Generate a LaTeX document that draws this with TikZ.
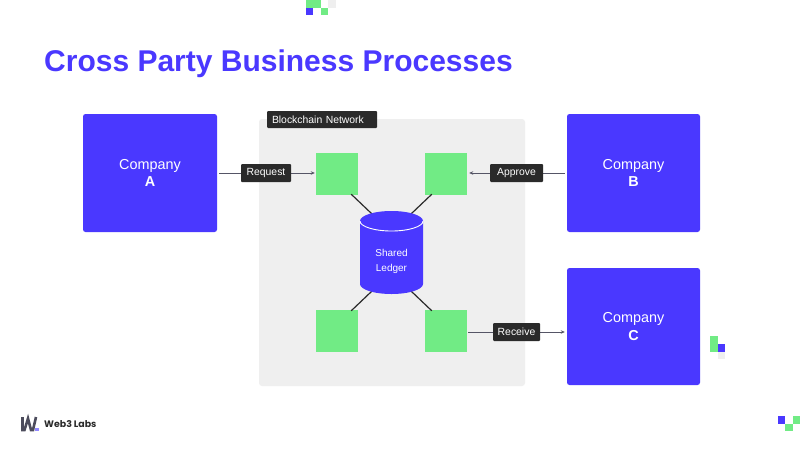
\documentclass[tikz,border=0pt]{standalone}
\usepackage{fontspec}
\setmainfont{Liberation Sans}
\newfontfamily\logofont{Poppins}
\usetikzlibrary{arrows.meta}
\definecolor{brandblue}{HTML}{4A38FF}
\definecolor{brandgreen}{HTML}{71EB85}
\definecolor{panelgray}{HTML}{EFEFEF}
\definecolor{labeldark}{HTML}{2A2A2A}
\definecolor{linkgray}{HTML}{555566}
\tikzset{
  company/.style={fill=brandblue,rounded corners=2.5pt,minimum width=134pt,minimum height=118pt,inner sep=0pt,text=white,align=center,font=\fontsize{14.4}{17}\selectfont},
  peer/.style={fill=brandgreen,minimum width=42pt,minimum height=42pt,inner sep=0pt},
  tag/.style={fill=labeldark,text=white,rounded corners=1pt,minimum height=18pt,inner sep=0pt,font=\fontsize{10.4}{12}\selectfont},
  link/.style={draw=linkgray,line width=1pt,-{Stealth[length=4pt,width=3.5pt]}},
  spoke/.style={draw=labeldark,line width=1.2pt}
}
\begin{document}
\begin{tikzpicture}[x=1pt,y=-1pt]
\useasboundingbox (0,0) rectangle (800,450);
\fill[white] (0,0) rectangle (800,450);
% decorative squares
\fill[brandgreen] (306,0) rectangle (321,7.5);
\fill[panelgray] (328,0) rectangle (336,7.5);
\fill[brandblue] (305.5,7.5) rectangle (313,15);
\fill[brandgreen] (321,7.5) rectangle (328,15);
\fill[brandgreen] (710,336) rectangle (717.5,352);
\fill[brandblue] (717.5,344) rectangle (725,352);
\fill[panelgray] (717.5,352) rectangle (725,359);
\fill[brandblue] (778,416) rectangle (785,424);
\fill[brandgreen] (785,424) rectangle (793,431);
\fill[brandgreen] (792.5,416) rectangle (800,424);
% title
\node[anchor=west,inner sep=0pt,text=brandblue,font=\fontsize{30}{36}\selectfont\bfseries] (title) at (44,64) {Cross Party Business Processes};
% panel
\fill[panelgray,rounded corners=3pt] (259,119) rectangle (525,386);
\node[tag,minimum width=110pt,minimum height=17pt,text width=100pt,align=left] (net) at (322,119.5) {Blockchain Network};
% companies
\node[company] (A) at (150,173) {Company\\[0.5pt]\textbf{A}};
\node[company,minimum width=133pt] (B) at (633.5,173) {Company\\[0.5pt]\textbf{B}};
\node[company,minimum width=133pt,minimum height=117pt] (C) at (633.5,326.5) {Company\\[0.5pt]\textbf{C}};
% peers
\node[peer] (p1) at (337,174) {};
\node[peer] (p2) at (446,174) {};
\node[peer] (p3) at (337,331) {};
\node[peer] (p4) at (446,331) {};
% ledger
\node[minimum width=63pt,minimum height=83pt,inner sep=0pt] (ledger) at (391.5,252.5) {};
\draw[spoke] ([xshift=-7pt,yshift=1pt]p1.south east) -- ([xshift=12pt,yshift=-3pt]ledger.north west);
\draw[spoke] ([xshift=7pt,yshift=1pt]p2.south west) -- ([xshift=-12pt,yshift=-3pt]ledger.north east);
\draw[spoke] ([xshift=-7pt,yshift=-1pt]p3.north east) -- ([xshift=12pt,yshift=3pt]ledger.south west);
\draw[spoke] ([xshift=7pt,yshift=-1pt]p4.north west) -- ([xshift=-12pt,yshift=3pt]ledger.south east);
\fill[brandblue] (360,221) arc[start angle=180,end angle=360,x radius=31.5,y radius=10]
  -- (423,284) arc[start angle=0,end angle=180,x radius=31.5,y radius=10] -- cycle;
\draw[white,line width=0.9pt] (360,221) arc[start angle=180,end angle=0,x radius=31.5,y radius=10];
\node[text=white,align=center,font=\fontsize{10}{14.5}\selectfont] (ledgertext) at (391.5,261.5) {Shared\\Ledger};
% connectors
\coordinate (a1) at ([xshift=2pt]A.east);
\coordinate (b1) at ([xshift=-2pt]B.west);
\coordinate (c1) at ([xshift=-2pt,yshift=-5.5pt]C.west);
\draw[link] (a1) -- ([xshift=-1pt,yshift=1pt]p1.west);
\draw[link] (b1) -- ([xshift=2pt,yshift=1pt]p2.east);
\draw[link] ([xshift=1pt,yshift=-1pt]p4.east) -- (c1);
\node[tag,minimum width=50pt] (req) at (266,173) {Request};
\node[tag,minimum width=53pt] (app) at (516.5,173) {Approve};
\node[tag,minimum width=47pt] (rec) at (516.5,332) {Receive};
% logo
\draw[linkgray!90!black,line width=2.6pt,line join=miter] (22.5,417) -- (22.5,430) -- (24.5,430) -- (28,418.5) -- (31,430) -- (33,430) -- (36,417);
\fill[brandblue!60] (35,427.5) rectangle (38.5,430.8);
\node[anchor=west,inner sep=0pt,text=labeldark,font=\fontsize{9.4}{10}\logofont\bfseries] (logo) at (44,424.5) {Web3 Labs};
\end{tikzpicture}
\end{document}
